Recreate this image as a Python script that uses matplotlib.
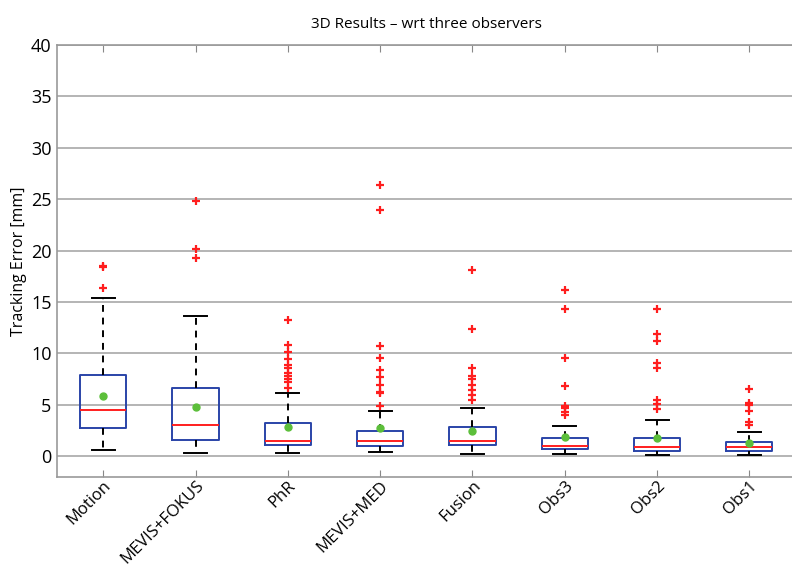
import numpy as np
import matplotlib
matplotlib.use("Agg")
import matplotlib.pyplot as plt
import matplotlib.transforms as mtransforms

plt.rcParams['font.family'] = ['Open Sans', 'DejaVu Sans']

# ========= data (mm) =========
methods = ["Motion", "MEVIS+FOKUS", "PhR", "MEVIS+MED", "Fusion", "Obs3", "Obs2", "Obs1"]
q1      = [2.73, 1.53, 1.07, 1.01, 1.04, 0.68, 0.48, 0.52]
median  = [4.51, 2.99, 1.43, 1.49, 1.43, 0.94, 0.84, 0.84]
q3      = [7.86, 6.59, 3.21, 2.44, 2.79, 1.79, 1.71, 1.35]
means   = [5.81, 4.77, 2.82, 2.73, 2.40, 1.82, 1.77, 1.26]
wlo     = [0.55, 0.29, 0.29, 0.42, 0.16, 0.16, 0.06, 0.13]
whi     = [15.42, 13.64, 6.10, 4.38, 4.71, 2.95, 3.52, 2.29]
outliers = [
    [16.36, 18.35, 18.5],
    [19.32, 20.16, 24.84],
    [6.62, 7.18, 7.5, 7.82, 8.05, 8.6, 8.86, 9.45, 10.1, 10.84, 13.21],
    [4.84, 6.14, 6.27, 6.92, 7.66, 8.38, 9.51, 10.75, 23.9, 26.33],
    [5.49, 5.97, 6.46, 6.88, 7.5, 7.82, 8.57, 12.34, 18.08],
    [4.03, 4.25, 4.64, 4.84, 6.85, 9.58, 14.29, 16.17],
    [4.58, 5.1, 5.48, 8.55, 9.1, 11.23, 11.84, 14.26],
    [3.06, 3.29, 4.42, 5.0, 5.16, 6.55],
]

stats = []
for i, name in enumerate(methods):
    stats.append(dict(label=name, q1=q1[i], med=median[i], q3=q3[i],
                      whislo=wlo[i], whishi=whi[i], mean=means[i],
                      fliers=outliers[i]))

fig = plt.figure(figsize=(7.92, 5.68), dpi=100)
ax = fig.add_axes([0.072, 0.161, 0.9325, 0.7597])

blue = "#2a44a8"
red = "#ff1e1e"
green = "#5cbf3a"

ax.bxp(stats, positions=np.arange(1, len(methods) + 1), widths=0.5,
       showmeans=True, patch_artist=False,
       boxprops=dict(color=blue, linewidth=1.4),
       medianprops=dict(color=red, linewidth=1.4),
       whiskerprops=dict(color="black", linewidth=1.4, linestyle=(0, (3.5, 3))),
       capprops=dict(color="black", linewidth=1.4),
       capwidths=0.25,
       flierprops=dict(marker="+", markeredgecolor=red, markersize=6,
                       markeredgewidth=1.6, linestyle="none"),
       meanprops=dict(marker="o", markerfacecolor=green, markeredgecolor=green,
                      markersize=5))

ax.set_xlim(0.5, len(methods) + 0.5)
ax.set_ylim(-2, 40)
ax.set_yticks(np.arange(0, 41, 5))
ax.yaxis.grid(True, color="#a8a8a8", linewidth=1.2)
ax.set_axisbelow(True)

ax.set_xticklabels(methods, rotation=45, ha="right", rotation_mode="anchor",
                   fontsize=12)
shift = mtransforms.ScaledTranslation(10 / 100, 2 / 100, fig.dpi_scale_trans)
for lab in ax.get_xticklabels():
    lab.set_transform(lab.get_transform() + shift)
ax.tick_params(axis="y", labelsize=13, direction="in", length=0, pad=4)
ax.tick_params(axis="x", direction="in", length=5, color="#888888",
               top=True, pad=1)
for s in ax.spines.values():
    s.set_color("#999999")
    s.set_linewidth(1.2)

ax.set_ylabel("Tracking Error [mm]", fontsize=11.5, labelpad=3)
ax.set_title("3D Results \u2013 wrt three observers", fontsize=11, pad=12)

fig.savefig("out.png", dpi=100)
